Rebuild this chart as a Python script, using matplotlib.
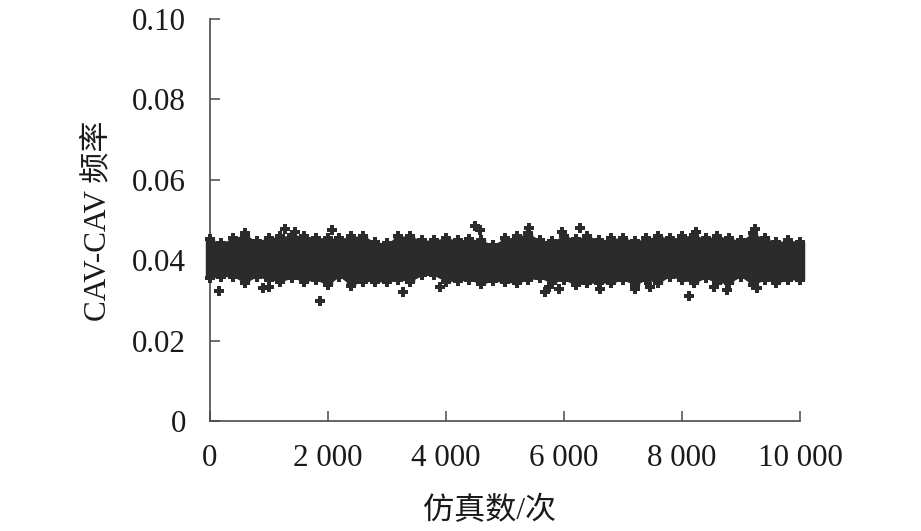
import numpy as np
import matplotlib
matplotlib.use('Agg')
import matplotlib.pyplot as plt

plt.rcParams['font.family'] = ['Liberation Serif', 'Noto Sans CJK SC']
plt.rcParams['font.size'] = 22.4
plt.rcParams['axes.unicode_minus'] = False

# edges of the dense band, read every 200 runs
band_runs = list(range(0, 10001, 200))
band_upper = [.0453, .0442, .0456, .0463, .0448, .0456, .0459, .0463, .0461, .0456,
              .0456, .0454, .0459, .0461, .0446, .0442, .0461, .0459, .0450, .0450,
              .0456, .0450, .0453, .0450, .0439, .0454,
              .0459, .0467, .0450, .0448, .0461, .0453, .0461, .0450, .0454, .0456,
              .0448, .0454, .0461, .0454, .0459, .0463, .0454, .0461, .0454, .0450,
              .0467, .0454, .0446, .0450, .0446]
band_lower = [.0355, .0359, .0359, .0343, .0359, .0351, .0347, .0355, .0347, .0351,
              .0338, .0359, .0337, .0347, .0347, .0345, .0351, .0347, .0362, .0362,
              .0347, .0348, .0351, .0340, .0348, .0345,
              .0343, .0351, .0355, .0343, .0351, .0338, .0343, .0343, .0343, .0351,
              .0338, .0351, .0343, .0359, .0351, .0343, .0355, .0343, .0343, .0359,
              .0338, .0351, .0343, .0351, .0351]

# points that stand clear of the band
outlier_runs = [167, 1873, 912, 1014, 1280, 2071, 4488, 4573, 3274, 3907, 1449, 602,
                5403, 6280, 5969, 9246, 8246, 5686, 5743, 8115, 6619, 7212, 8766,
                8539, 5912, 9275, 7466]
outlier_freq = [.0323, .0299, .0330, .0333, .0477, .0475, .0486, .0475, .0322, .0333,
                .0471, .0468,
                .0479, .0479, .0471, .0477, .0471, .0322, .0334, .0312, .0328, .0328,
                .0326, .0333, .0328, .0330, .0334]

x_ticks = [0, 2000, 4000, 6000, 8000, 10000]
x_labels = ['0', '2 000', '4 000', '6 000', '8 000', '10 000']
y_ticks = [0, 0.02, 0.04, 0.06, 0.08, 0.10]
y_labels = ['0', '0.02', '0.04', '0.06', '0.08', '0.10']

ink = '#2b2b2b'
axis_color = '#4a4a4a'

fig = plt.figure(figsize=(9.21, 5.31), dpi=100)
ax = fig.add_axes([209.5 / 921, (531 - 421) / 531, 590.5 / 921, 402 / 531])

# band body, then plus markers on its edges
ax.fill_between(band_runs, band_lower, band_upper, color=ink, lw=0, zorder=3)
ax.vlines(band_runs, band_lower, band_upper, color=ink, lw=6.8, zorder=3, clip_on=False)
for edge in (band_upper, band_lower):
    ax.plot(band_runs, edge, ls='none', marker='P', ms=7.2, mfc=ink, mew=0, zorder=3, clip_on=False)
ax.plot(outlier_runs, outlier_freq, ls='none', marker='P', ms=7.2, mfc=ink, mew=0, zorder=3, clip_on=False)

ax.set_xlim(0, 10000)
ax.set_ylim(0, 0.10)
ax.set_xticks(x_ticks)
ax.set_xticklabels(x_labels)
ax.set_yticks(y_ticks)
ax.set_yticklabels(y_labels)
ax.tick_params(axis='x', direction='in', length=7.2, width=1.1, color=axis_color, pad=16.5, labelcolor='#1a1a1a')
ax.tick_params(axis='y', direction='in', length=7.2, width=1.1, color=axis_color, pad=17, labelcolor='#1a1a1a')

ax.spines['top'].set_visible(False)
ax.spines['right'].set_visible(False)
ax.spines['left'].set_color(axis_color)
ax.spines['bottom'].set_color(axis_color)
ax.spines['left'].set_linewidth(1.2)
ax.spines['bottom'].set_linewidth(1.2)

ax.set_xlabel('仿真数/次', color='#1a1a1a')
ax.set_ylabel('CAV-CAV 频率', color='#1a1a1a')
ax.xaxis.set_label_coords(280 / 590.5, -76 / 402)
ax.yaxis.set_label_coords(-97 / 590.5, 200 / 402)

fig.savefig('out.png', dpi=100)
